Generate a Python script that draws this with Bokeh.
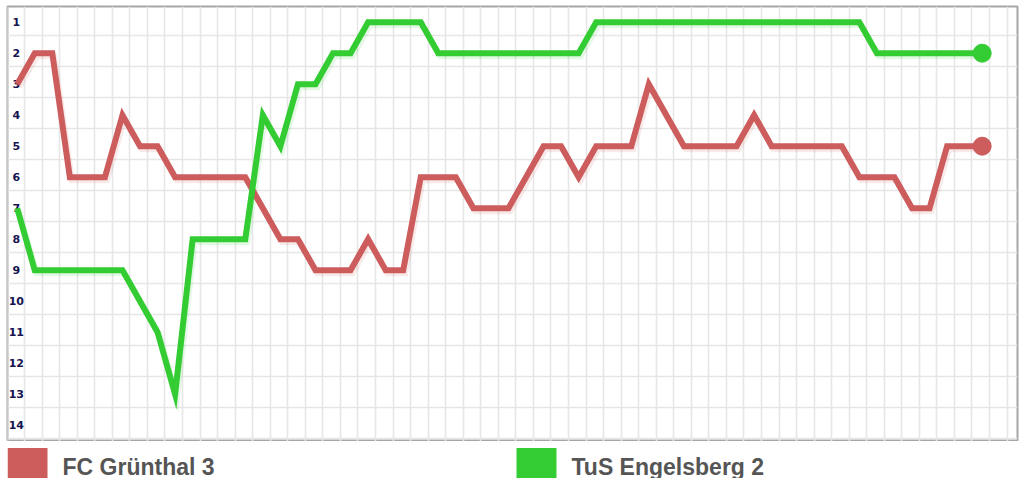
import numpy as np
from bokeh.plotting import figure
from bokeh.models import Range1d, FixedTicker
from bokeh.layouts import column
from bokeh.embed import file_html
from bokeh.resources import INLINE
from bokeh.core.properties import value

# ---------------- data ----------------
teams = ["FC Grünthal 3", "TuS Engelsberg 2"]
team_colors = ["#CD5C5C", "#33CC33"]
matchdays = list(range(1, 57))
gruenthal = [3, 2, 2, 6, 6, 6, 4, 5, 5, 6, 6, 6, 6, 6, 7, 8, 8, 9, 9, 9,
             8, 9, 9, 6, 6, 6, 7, 7, 7, 6, 5, 5, 6, 5, 5, 5, 3, 4, 5, 5,
             5, 5, 4, 5, 5, 5, 5, 5, 6, 6, 6, 7, 7, 5, 5, 5]
engelsberg = [7, 9, 9, 9, 9, 9, 9, 10, 11, 13, 8, 8, 8, 8, 4, 5, 3, 3, 2, 2,
              1, 1, 1, 1, 2, 2, 2, 2, 2, 2, 2, 2, 2, 1, 1, 1, 1, 1, 1, 1,
              1, 1, 1, 1, 1, 1, 1, 1, 1, 2, 2, 2, 2, 2, 2, 2]
rank_ticks = [1, 2, 3, 4, 5, 6, 7, 8, 9, 10, 11, 12, 13, 14]
rank_labels = ["1", "2", "3", "4", "5", "6", "7", "8", "9", "10", "11", "12", "13", "14"]
series = [gruenthal, engelsberg]

# ---------------- main chart ----------------
W = 1019
px_x = 17.545   # pixels per matchday
px_y = 31.0     # pixels per rank
frame_left, frame_right, frame_top, frame_bottom = 7, 1017, 6, 441
x0 = 1 + (frame_left - 16.7) / px_x
x1 = x0 + (frame_right - frame_left) / px_x
y0 = 1 + (frame_top - 21.7) / px_y
y1 = y0 + (frame_bottom - frame_top) / px_y

p = figure(width=W, height=frame_bottom, x_range=Range1d(x0, x1), y_range=Range1d(y1, y0),
           output_backend="svg", toolbar_location=None,
           x_axis_location=None, y_axis_location=None,
           min_border_left=frame_left, min_border_right=W - frame_right,
           min_border_top=frame_top, min_border_bottom=0)
p.background_fill_color = "white"
p.border_fill_color = "white"
p.outline_line_color = "#a6a6a6"
p.outline_line_width = 2

p.xgrid.ticker = FixedTicker(ticks=[m + 0.42 for m in range(0, 59)])
p.ygrid.ticker = FixedTicker(ticks=[r + 0.43 for r in range(0, 16)])
for g in (p.xgrid, p.ygrid):
    g.grid_line_color = "#e6e6e6"
    g.grid_line_width = 1.6

# rank labels inside the frame
p.text(x=[x0] * len(rank_ticks), y=rank_ticks, text=rank_labels,
       x_offset=8.8, text_align="center", text_baseline="middle",
       text_font=value("DejaVu Sans"), text_font_style="bold",
       text_font_size="11px", text_color="#141450")

xs = np.array(matchdays, dtype=float)
for vals, col in zip(series, team_colors):
    ys = np.array(vals, dtype=float)
    # faint drop shadow
    p.line(xs + 2.0 / px_x, ys + 3.0 / px_y, line_width=6, line_color=col,
           line_alpha=0.13, line_join="miter")
for vals, col in zip(series, team_colors):
    ys = np.array(vals, dtype=float)
    p.line(xs, ys, line_width=6, line_color=col, line_join="miter")
    p.scatter([xs[-1]], [ys[-1]], marker="circle", size=18,
              fill_color=col, line_color=col)

# ---------------- legend strip (frame aligned with the chart above) ----------------
LH = 478 - frame_bottom
lg = figure(width=W, height=LH, x_range=Range1d(frame_left, frame_right), y_range=Range1d(LH, 0),
            output_backend="svg", toolbar_location=None,
            x_axis_location=None, y_axis_location=None,
            min_border_left=frame_left, min_border_right=W - frame_right,
            min_border_top=0, min_border_bottom=0)
lg.xgrid.visible = False
lg.ygrid.visible = False
lg.outline_line_color = None
lg.background_fill_color = "white"
lg.border_fill_color = "white"

slot_left = [7.0, 516.0]
lg.quad(left=slot_left, right=[s + 40.0 for s in slot_left],
        top=[6.5] * 2, bottom=[36.5] * 2, fill_color=team_colors, line_color=None)
lg.text(x=[s + 55.0 for s in slot_left], y=[25] * 2, text=teams,
        text_align="left", text_baseline="middle",
        text_font=value("Liberation Sans"), text_font_style="bold",
        text_font_size="23px", text_color="#555555")

layout = column(p, lg)
open("out.html", "w").write(file_html(layout, INLINE))
